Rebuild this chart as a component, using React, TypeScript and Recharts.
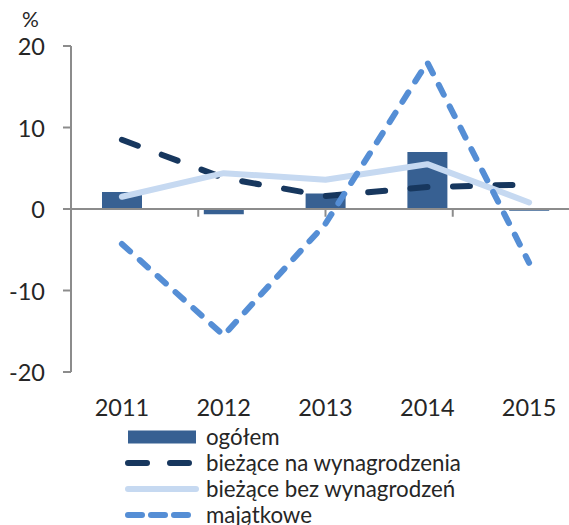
import React from 'react';
import { ComposedChart, Bar, Line, XAxis, YAxis, ReferenceLine } from 'recharts';

const years = ['2011', '2012', '2013', '2014', '2015'];
const ogolem = [2.1, -0.65, 1.9, 7.0, -0.2];
const naWynagrodzenia = [8.5, 3.8, 1.6, 2.7, 3.0];
const bezWynagrodzen = [1.5, 4.4, 3.6, 5.5, 0.8];
const majatkowe = [-4.3, -15.5, -1.8, 18.0, -6.6];
const yTicks = [-20, -10, 0, 10, 20];
const boundaryTicks = [1, 2, 3, 4];
const seriesNames = ['ogółem', 'bieżące na wynagrodzenia', 'bieżące bez wynagrodzeń', 'majątkowe'];
const unitLabel = '%';

const C_BAR = '#376092';
const C_DARK = '#17375e';
const C_LIGHT = '#c6d9f1';
const C_MID = '#558ed5';
const C_AXIS = '#8c8c8c';
const C_TEXT = '#262626';
const FONT = 'Lato, "Open Sans", sans-serif';

const data = years.map((y, i) => ({
  year: y,
  ogolem: ogolem[i],
  na: naWynagrodzenia[i],
  bez: bezWynagrodzen[i],
  maj: majatkowe[i],
}));

const XTick = (props: any) => {
  const { x, y, payload } = props;
  return (
    <text x={x} y={y} dy={35} textAnchor="middle" dominantBaseline="central" fill={C_TEXT} fontSize={23.5} fontFamily={FONT}>
      {payload.value}
    </text>
  );
};

const YTick = (props: any) => {
  const { x, y, payload } = props;
  return (
    <text x={x} y={y} textAnchor="end" dominantBaseline="central" fill={C_TEXT} fontSize={23.5} fontFamily={FONT}>
      {payload.value}
    </text>
  );
};

const legendIcons = [
  <rect x={6} y={6.5} width={68} height={13} fill={C_BAR} />,
  <line x1={6} y1={13} x2={70} y2={13} stroke={C_DARK} strokeWidth={6} strokeLinecap="round" strokeDasharray="19 23" />,
  <line x1={6} y1={13} x2={74} y2={13} stroke={C_LIGHT} strokeWidth={6} strokeLinecap="round" />,
  <line x1={6} y1={13} x2={70} y2={13} stroke={C_MID} strokeWidth={6} strokeLinecap="round" strokeDasharray="14 9" />,
];

export default function App() {
  return (
    <div style={{ position: 'absolute', left: 0, top: 0, width: 569, height: 525, overflow: 'hidden', background: '#fff' }}>
      <ComposedChart
        width={600}
        height={525}
        data={data}
        margin={{ top: 46, right: 20, bottom: 113, left: 0 }}
      >
        <XAxis
          dataKey="year"
          axisLine={false}
          tickLine={false}
          tickSize={0}
          tickMargin={0}
          tick={<XTick />}
          height={40}
          interval={0}
        />
        <XAxis xAxisId="num" type="number" domain={[0, 5]} hide />
        <YAxis
          domain={[-20, 20]}
          ticks={yTicks}
          width={71}
          axisLine={{ stroke: C_AXIS, strokeWidth: 2 }}
          tickLine={{ stroke: C_AXIS, strokeWidth: 2 }}
          tickSize={8}
          tickMargin={18}
          tick={<YTick />}
          interval={0}
        />
        <Bar dataKey="ogolem" fill={C_BAR} barSize={40} isAnimationActive={false} />
        <ReferenceLine y={0} stroke={C_AXIS} strokeWidth={2} />
        {boundaryTicks.map((b) => (
          <ReferenceLine
            key={b}
            xAxisId="num"
            segment={[{ x: b, y: 0 }, { x: b, y: -0.95 }]}
            stroke={C_AXIS}
            strokeWidth={2}
            ifOverflow="visible"
          />
        ))}
        <Line dataKey="na" stroke={C_DARK} strokeWidth={6} strokeDasharray="17 25.5" strokeLinecap="round" dot={false} activeDot={false} isAnimationActive={false} />
        <Line dataKey="bez" stroke={C_LIGHT} strokeWidth={6} strokeLinecap="round" strokeLinejoin="round" dot={false} activeDot={false} isAnimationActive={false} />
        <Line dataKey="maj" stroke={C_MID} strokeWidth={6} strokeDasharray="11 13" strokeLinecap="round" dot={false} activeDot={false} isAnimationActive={false} />
      </ComposedChart>
      <div style={{ position: 'absolute', left: 22, top: 6, fontFamily: FONT, fontSize: 21, color: C_TEXT }}>{unitLabel}</div>
      <div style={{ position: 'absolute', left: 122, top: 424, fontFamily: FONT, fontSize: 22.3, color: C_TEXT }}>
        {seriesNames.map((n, i) => (
          <div key={n} style={{ display: 'flex', alignItems: 'center', height: 26 }}>
            <svg width={84} height={26} style={{ display: 'block' }}>{legendIcons[i]}</svg>
            <span style={{ lineHeight: '26px', whiteSpace: 'nowrap' }}>{n}</span>
          </div>
        ))}
      </div>
    </div>
  );
}
